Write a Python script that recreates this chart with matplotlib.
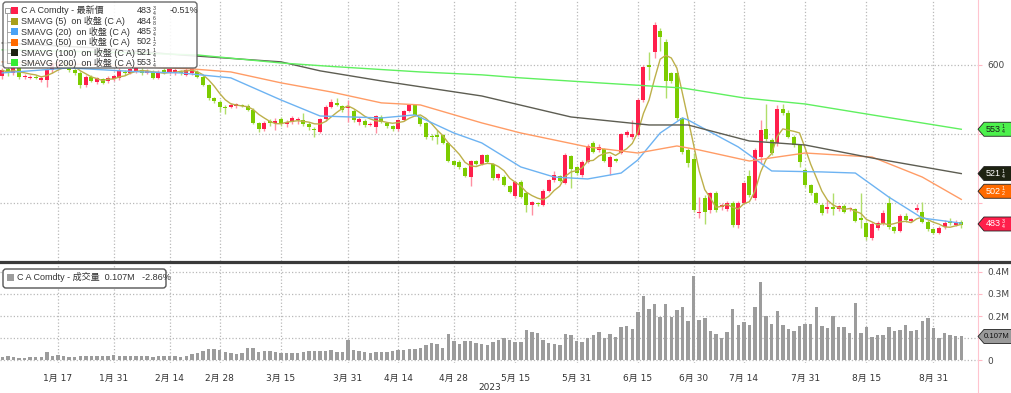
import numpy as np
import pandas as pd
import matplotlib
matplotlib.use("Agg")
import matplotlib.pyplot as plt
from matplotlib.patches import Polygon, FancyBboxPatch, Rectangle
from matplotlib.lines import Line2D

plt.rcParams['font.family'] = ['DejaVu Sans', 'Noto Sans CJK TC']
LEG_FONT = ['Liberation Sans', 'Noto Sans CJK TC']

# trading days shown (CBOT holidays removed)
holidays = ['2023-01-02', '2023-01-16', '2023-02-20', '2023-04-07', '2023-05-29',
            '2023-06-19', '2023-07-04', '2023-09-04']
days = pd.bdate_range('2022-12-30', '2023-09-08')
days = days[~days.isin(pd.to_datetime(holidays))]

opens = [
    592, 597, 594, 597.6, 591.5, 590.8, 591.5, 589.1, 589.1, 596,
    598, 602, 601.2, 596.4, 594.4, 585.5, 591.5, 587.7, 589.6, 588.2,
    589.6, 590.3, 595.2, 594.4, 595.2, 596.4, 594.4, 595.2, 590.3, 596.4,
    594.4, 594, 595.2, 592.8, 594, 595.2, 591.5, 585.5, 575.8, 573.4,
    569.8, 569.8, 570, 571, 570.3, 567.4, 558.2, 553.4, 559.4, 557.7,
    560.6, 557.2, 559, 560.3, 560, 557, 553.4, 551.7, 560.7, 569.8,
    572.5, 570, 568.6, 566.7, 559, 559.7, 556.5, 554.8, 562.6, 557.7,
    555.8, 553.4, 560.1, 566.7, 571, 562, 557.7, 548.5, 549.3, 549.3,
    543.7, 530.7, 530, 525, 518.6, 530.7, 528.3, 534.8, 528.3, 517.9,
    519, 512.3, 505, 515.5, 507, 498.6, 499.8, 498.6, 509, 516.7,
    519.6, 514.7, 534, 525.8, 520.3, 530, 543.2, 538.4, 538.9, 525.8,
    531.9, 536.5, 549.3, 547.6, 549.3, 574.6, 600, 609.2, 624.9, 616.9,
    594, 594, 561.4, 538.4, 531.6, 492.5, 503.4, 494.9, 507, 496.9,
    495.4, 500.2, 484.1, 500.2, 519.6, 503.4, 533.6, 553.4, 545.7, 543.2,
    567.9, 565.5, 548.1, 542, 523.9, 513, 507, 498.6, 495.4, 497.3,
    495.4, 497.8, 495.4, 495.4, 488.9, 485.3, 474.4, 481.6, 485.3, 500.2,
    482.4, 480, 490.6, 487.2, 494.9, 493.7, 486.5, 480.9, 478.5, 482.4,
    487.2, 484.3, 486.25,
]
closes = [
    596, 594, 598, 591.5, 592, 591.5, 590.8, 590.8, 596, 601.2,
    602.4, 600, 596.4, 594.4, 585.5, 591.5, 588.6, 590.3, 587.2, 590.8,
    592, 596.4, 594, 596.9, 597.6, 594, 595.9, 590.3, 595.2, 594.4,
    596.9, 596.4, 594, 596.4, 596.9, 591.5, 585.5, 575.8, 574, 569.8,
    568.6, 571, 571.4, 570.5, 567.4, 558.2, 553.4, 558.2, 558.2, 559.4,
    557.7, 558.9, 561.4, 560.6, 557, 554.8, 552.9, 560.7, 569.8, 573.4,
    571.2, 567.4, 569.8, 560.1, 560.5, 556.5, 557.5, 563, 559, 555.8,
    553.4, 560.1, 566.7, 571, 563.8, 557.2, 547.6, 547.6, 548, 543.7,
    530.7, 527.5, 525.8, 519.6, 530.7, 528.3, 534.8, 530, 517.9, 521,
    513, 508.2, 515, 504.6, 498.6, 500.5, 499, 509, 516.7, 520.3,
    516.2, 534.8, 524.4, 521.5, 530, 541.3, 537.2, 540.3, 530.7, 533.3,
    530.7, 549.9, 551.7, 550, 574.6, 598.3, 598.3, 629, 620.5, 588.6,
    588.6, 561.4, 537.2, 528.7, 494.9, 493.7, 493.7, 507, 494.9, 498.6,
    500.2, 484.1, 500.2, 514.3, 505.8, 538.4, 552.9, 546.1, 536, 567.9,
    565.5, 548.1, 542, 530, 513, 507, 500.2, 493, 497.3, 495.4,
    497.5, 493.7, 496.1, 487.2, 487.7, 475.6, 484.8, 485.3, 493, 482.4,
    480, 490.6, 487.7, 488.2, 496.1, 486.5, 481, 478.5, 481.6, 485.8,
    485.3, 486.25, 483.75,
]
highs = [
    598, 599, 600, 599, 593.5, 593, 593, 592, 597.5, 603,
    604, 603.5, 602.5, 598, 595.5, 592.5, 593, 591.5, 590.5, 592,
    593, 597.5, 596.5, 598, 599, 597.5, 597, 596.5, 596.5, 597.5,
    598, 597.5, 596, 597.5, 598, 596.5, 592.5, 586.5, 577, 574.5,
    571, 572.5, 572.5, 572, 571.5, 568.5, 559, 559.5, 560.5, 561.5,
    562, 560, 563, 562, 565, 558.5, 555, 561.5, 571, 575,
    575.8, 571, 574.6, 568, 562, 560.5, 559, 564, 563.5, 558.5,
    556.5, 561, 567.5, 572, 572, 563, 558.5, 550, 552.9, 550,
    544.5, 531.5, 531, 526, 531.5, 531.5, 535.5, 535.5, 529, 522,
    520, 513, 516, 516.5, 508, 501.5, 501, 510, 517.5, 523,
    520.5, 536, 535, 527, 531, 542.5, 545, 543, 540, 534.5,
    532.5, 551, 553, 560.1, 576, 600, 609.7, 631.4, 627, 619,
    595, 595, 562.5, 540, 536, 504.6, 505.5, 508, 508.5, 500,
    501.5, 501.5, 501.5, 515.5, 524, 539.5, 560, 572, 547, 571,
    572, 567, 549, 543, 525, 514, 508, 500, 502, 507,
    498.5, 499, 497, 496.5, 507, 486.5, 486, 487, 495, 505,
    483.5, 492, 492.5, 489.5, 499, 500.5, 487.5, 482, 483, 487.5,
    489, 488, 488,
]
lows = [
    590, 592, 593, 590, 590, 589.5, 589.5, 587.5, 584.3, 594,
    596, 598.5, 595, 593, 583.5, 584, 587.5, 586.5, 586, 587,
    588.5, 589, 592.5, 593.5, 594.5, 593, 593.5, 589.5, 589.5, 593.5,
    593.5, 593, 593, 592, 593, 590.5, 584.5, 574.5, 572.5, 566,
    564.5, 568.5, 569, 569.5, 566.5, 557, 551.5, 552, 556, 553,
    556, 555, 557.5, 557, 556, 553, 548, 551, 559.5, 568.5,
    570, 566, 559, 559, 556.5, 555, 555.5, 551, 558, 554.5,
    552.5, 552.5, 559.5, 566, 563, 556, 546.5, 545.5, 542.8, 542.5,
    529.5, 526.5, 524.5, 518.5, 512.6, 527.5, 527.5, 529, 517, 516.5,
    512, 507, 503.5, 503.5, 493.7, 491.3, 497.5, 497.5, 508, 515.5,
    515, 513.5, 510.6, 520.5, 519, 529, 536, 537, 529.5, 520.3,
    529.5, 535.5, 548, 546.5, 548.5, 573.5, 589, 604.8, 610, 576,
    587, 560, 535.5, 526, 493.5, 489, 484.5, 493, 493.5, 495,
    494, 482.5, 482, 499, 504.5, 502, 528, 545, 535, 541.5,
    564, 547, 540.5, 526, 511.5, 505.5, 499, 491.5, 493, 491.3,
    494, 492.5, 494.5, 486, 482, 473.5, 473, 480.5, 484, 481,
    478.5, 479, 486.5, 486, 493.5, 485.5, 480, 477.5, 477.5, 481.5,
    484, 483, 482,
]
# volume in millions of contracts
volume = [
    0.012, 0.016, 0.014, 0.011, 0.010, 0.015, 0.013, 0.014, 0.038, 0.016,
    0.024, 0.020, 0.013, 0.015, 0.016, 0.017, 0.016, 0.017, 0.016, 0.018,
    0.021, 0.020, 0.018, 0.017, 0.019, 0.016, 0.017, 0.015, 0.016, 0.018,
    0.017, 0.016, 0.015, 0.017, 0.026, 0.032, 0.042, 0.048, 0.052, 0.044,
    0.036, 0.030, 0.028, 0.033, 0.055, 0.056, 0.038, 0.042, 0.040, 0.036,
    0.033, 0.032, 0.030, 0.034, 0.037, 0.041, 0.042, 0.043, 0.040, 0.044,
    0.038, 0.036, 0.090, 0.044, 0.043, 0.035, 0.034, 0.035, 0.036, 0.038,
    0.040, 0.045, 0.044, 0.052, 0.050, 0.056, 0.070, 0.078, 0.074, 0.053,
    0.120, 0.088, 0.072, 0.085, 0.086, 0.078, 0.072, 0.070, 0.082, 0.090,
    0.098, 0.092, 0.082, 0.080, 0.135, 0.126, 0.121, 0.090, 0.078, 0.074,
    0.070, 0.118, 0.112, 0.086, 0.080, 0.098, 0.115, 0.127, 0.100, 0.120,
    0.104, 0.148, 0.156, 0.140, 0.216, 0.293, 0.234, 0.253, 0.194, 0.253,
    0.197, 0.229, 0.243, 0.179, 0.381, 0.184, 0.190, 0.134, 0.116, 0.100,
    0.126, 0.234, 0.159, 0.172, 0.160, 0.241, 0.353, 0.200, 0.165, 0.221,
    0.160, 0.143, 0.134, 0.153, 0.165, 0.162, 0.241, 0.153, 0.147, 0.200,
    0.149, 0.151, 0.121, 0.259, 0.121, 0.149, 0.106, 0.112, 0.112, 0.149,
    0.132, 0.138, 0.159, 0.132, 0.138, 0.178, 0.193, 0.147, 0.100, 0.125,
    0.115, 0.110, 0.107,
]

# moving averages (day number -> value)
sma20_day = [0, 12, 25, 32, 41, 50, 57, 68, 74, 81, 86, 93, 99, 105, 111, 114, 118,
             122, 123, 132, 138, 147, 153, 159, 165, 172]
sma20_val = [594.2, 597.8, 594.9, 594.2, 590.6, 574.6, 563.0, 561.6, 563.8, 550.7,
             543.5, 526.1, 518.8, 517.4, 521.7, 531.2, 550.7, 561.6, 560.1, 540.6,
             523.2, 522.5, 521.7, 504.3, 489.1, 485.4]
sma50_day = [0, 17, 34, 41, 50, 59, 68, 75, 86, 93, 105, 114, 121, 125, 134, 144,
             156, 165, 172]
sma50_val = [602.2, 600.0, 597.1, 594.9, 587.0, 580.4, 572.5, 571.0, 558.0, 550.7,
             540.6, 536.2, 541.3, 538.4, 530.4, 536.2, 533.3, 518.8, 502.6]
sma100_day = [0, 17, 32, 50, 57, 68, 86, 102, 116, 123, 134, 144, 156, 172]
sma100_val = [615.9, 612.3, 607.2, 602.2, 595.7, 588.4, 577.5, 562.3, 556.5, 556.5,
              544.9, 542.0, 532.6, 521.3]
sma200_day = [0, 17, 35, 50, 59, 75, 86, 93, 107, 122, 133, 144, 156, 172]
sma200_val = [610.9, 609.4, 607.2, 601.4, 598.9, 594.9, 592.8, 590.6, 587.0, 583.3,
              576.1, 571.7, 563.8, 553.4]

# last values shown in the legend: (whole, numerator, denominator)
last_vals = [('483', '3', '4'), ('484', '6', '8'), ('485', '3', '4'),
             ('502', '1', '2'), ('521', '1', '4'), ('553', '1', '4')]

tick_dates = ['2023-01-17', '2023-01-31', '2023-02-14', '2023-02-28', '2023-03-15',
              '2023-03-31', '2023-04-14', '2023-04-28', '2023-05-15', '2023-05-31',
              '2023-06-15', '2023-06-30', '2023-07-14', '2023-07-31', '2023-08-15',
              '2023-08-31']

o = np.array(opens); c = np.array(closes)
h = np.maximum(np.array(highs), np.maximum(o, c))
l = np.minimum(np.array(lows), np.minimum(o, c))
x = np.arange(len(days))
sma5 = pd.Series(c).rolling(5, min_periods=1).mean()

UP, DOWN = '#ff1f4b', '#7ccc00'
UPW, DOWNW = '#ff8fa2', '#b0de6a'
up = c >= o

W, H = 1011, 393
fig = plt.figure(figsize=(W / 100, H / 100), dpi=100)
ax = fig.add_axes([0, 1 - 261 / H, 978 / W, 261 / H])
axv = fig.add_axes([0, 1 - 363 / H, 978 / W, 98 / H], sharex=ax)

ax.vlines(x, l, h, colors=np.where(up, UPW, DOWNW), lw=1, zorder=2)
ax.bar(x, np.maximum(np.abs(c - o), 0.8), bottom=np.minimum(o, c), width=0.72,
       color=np.where(up, UP, DOWN), zorder=2)
ax.plot(x, sma5, color='#bdb04a', lw=1, zorder=3)
ax.plot(sma20_day, sma20_val, color='#6db3f2', lw=1, zorder=3)
ax.plot(sma50_day, sma50_val, color='#ff9c66', lw=1, zorder=3)
ax.plot(sma100_day, sma100_val, color='#5d5d52', lw=1, zorder=3)
ax.plot(sma200_day, sma200_val, color='#5ff05f', lw=1, zorder=3)

axv.bar(x, volume, width=0.62, color='#9c9c9c', zorder=2)

tick_pos = [days.get_loc(pd.Timestamp(d)) for d in tick_dates]
tick_lab = [f"{pd.Timestamp(d).month}月 {pd.Timestamp(d).day}" for d in tick_dates]

ax.set_xlim(-0.4, 175.0)
ax.set_ylim(458, 647)
axv.set_ylim(-0.0136, 0.4318)
# 500 / 550 and 0.1M labels sit under the value tags, as in the original
ax.set_yticks([500, 550, 600])
ax.set_yticklabels(['', '', '600'])
axv.set_yticks([0, 0.1, 0.2, 0.3, 0.4])
axv.set_yticklabels(['0', '', '0.2M', '0.3M', '0.4M'])
axv.set_xticks(tick_pos)
axv.set_xticklabels(tick_lab)

for a in (ax, axv):
    a.set_facecolor('white')
    for s in a.spines.values():
        s.set_visible(False)
    a.yaxis.tick_right()
    a.tick_params(axis='y', labelsize=6.5, labelcolor='#444444', length=3,
                  color='#ffb8c4', pad=4)
    a.grid(True, ls=':', color='#b9b9b9', lw=0.9)
    a.set_axisbelow(True)
ax.tick_params(axis='x', labelbottom=False, length=0)
axv.tick_params(axis='x', labelsize=6.5, labelcolor='#333333', length=0, pad=8)
fig.text(490 / W, 1 - 387 / H, '2023', fontsize=6.5, color='#333333',
         ha='center', va='center')

T = fig.dpi_scale_trans


def px(xp, yp):
    return (xp / 100.0, (H - yp) / 100.0)


def ypix(a, v):
    return H - a.transData.transform((0, v))[1]


def price_text(xp, yp, val, color):
    # whole number followed by a tiny stacked fraction
    whole, num, den = val
    fig.text(*px(xp, yp), whole, transform=T, fontsize=6.5, color=color, va='center',
             family=LEG_FONT, zorder=7)
    fx = xp + 5.0 * len(whole) + 1
    fig.text(*px(fx, yp - 2.3), num, transform=T, fontsize=3.8, color=color,
             va='center', family=LEG_FONT, zorder=7)
    fig.text(*px(fx, yp + 2.6), den, transform=T, fontsize=3.8, color=color,
             va='center', family=LEG_FONT, zorder=7)


# right axis line and panel separator
fig.add_artist(Line2D([978 / 100] * 2, [0, H / 100], transform=T, color='#ffc4cf', lw=0.8))
fig.add_artist(Line2D([0, W / 100], [(H - 262) / 100] * 2, transform=T,
                      color='#3a3a3a', lw=2.3))


def tag(yc, fc, ec='#222222'):
    pts = [px(978, yc), px(984, yc - 7), px(1013, yc - 7), px(1013, yc + 7), px(984, yc + 7)]
    fig.add_artist(Polygon(pts, closed=True, transform=T, fc=fc, ec=ec, lw=0.6, zorder=5))


y553 = ypix(ax, 553.4)
y521 = ypix(ax, 521.3)
y502 = ypix(ax, 508.5)
y483 = ypix(ax, 484.8)
tag(y553, '#4cf04c')
price_text(986, y553, last_vals[5], '#1a1a1a')
tag(y521, '#1d2211')
price_text(986, y521, last_vals[4], 'white')
tag(y502, '#ff6a00')
price_text(986, y502, last_vals[3], 'white')
tag(y483, '#ff1f4b')
price_text(986, y483, last_vals[0], 'white')
yv = ypix(axv, 0.107)
tag(yv, '#9a9a9a')
fig.text(*px(984, yv), '0.107M', transform=T, fontsize=5.6, color='#111111',
         family=LEG_FONT, va='center', zorder=7)

# main legend
fig.add_artist(FancyBboxPatch(px(3, 68), 1.94, 0.66, boxstyle='round,pad=0,rounding_size=0.03',
                              transform=T, fc='white', ec='#555555', lw=1, alpha=0.88, zorder=4))
rows = [
    ('C A Comdty - 最新價', '#ff1f4b'),
    ('SMAVG (5)  on 收盤 (C A)', '#a89f1c'),
    ('SMAVG (20)  on 收盤 (C A)', '#49a2f5'),
    ('SMAVG (50)  on 收盤 (C A)', '#ff6a00'),
    ('SMAVG (100)  on 收盤 (C A)', '#1d2211'),
    ('SMAVG (200)  on 收盤 (C A)', '#33ee33'),
]
row_y = [10.5, 21, 31.5, 42, 52.5, 62.5]
fig.add_artist(Line2D([7 / 100] * 2, [(H - 14) / 100, (H - 62.5) / 100], transform=T,
                      color='#9a9a9a', lw=0.6, zorder=5))
fig.add_artist(Rectangle(px(4.5, 13), 0.05, 0.05, transform=T, fc='white', ec='#8a8a8a',
                         lw=0.6, zorder=5))
for (lab, col), val, yy in zip(rows, last_vals, row_y):
    if yy > 12:
        fig.add_artist(Line2D([7 / 100, 11 / 100], [(H - yy) / 100] * 2, transform=T,
                              color='#9a9a9a', lw=0.6, zorder=5))
    fig.add_artist(Rectangle(px(11, yy + 3.5), 0.07, 0.07, transform=T, fc=col, ec='none',
                             zorder=6))
    fig.text(*px(21, yy), lab, transform=T, fontsize=6.5, color='#333333', va='center',
             family=LEG_FONT, zorder=6)
    price_text(137, yy, val, '#333333')
fig.text(*px(170, row_y[0]), '-0.51%', transform=T, fontsize=6.5, color='#333333',
         va='center', family=LEG_FONT, zorder=6)

# volume legend
fig.add_artist(FancyBboxPatch(px(3, 288), 1.63, 0.19, boxstyle='round,pad=0,rounding_size=0.03',
                              transform=T, fc='white', ec='#555555', lw=1, zorder=4))
fig.add_artist(Rectangle(px(7, 280.5), 0.07, 0.07, transform=T, fc='#9c9c9c', ec='none', zorder=6))
fig.text(*px(17, 277), 'C A Comdty - 成交量  0.107M   -2.86%', transform=T, fontsize=6.5,
         color='#333333', va='center', family=LEG_FONT, zorder=6)

fig.savefig('out.png', dpi=100, facecolor='white')
